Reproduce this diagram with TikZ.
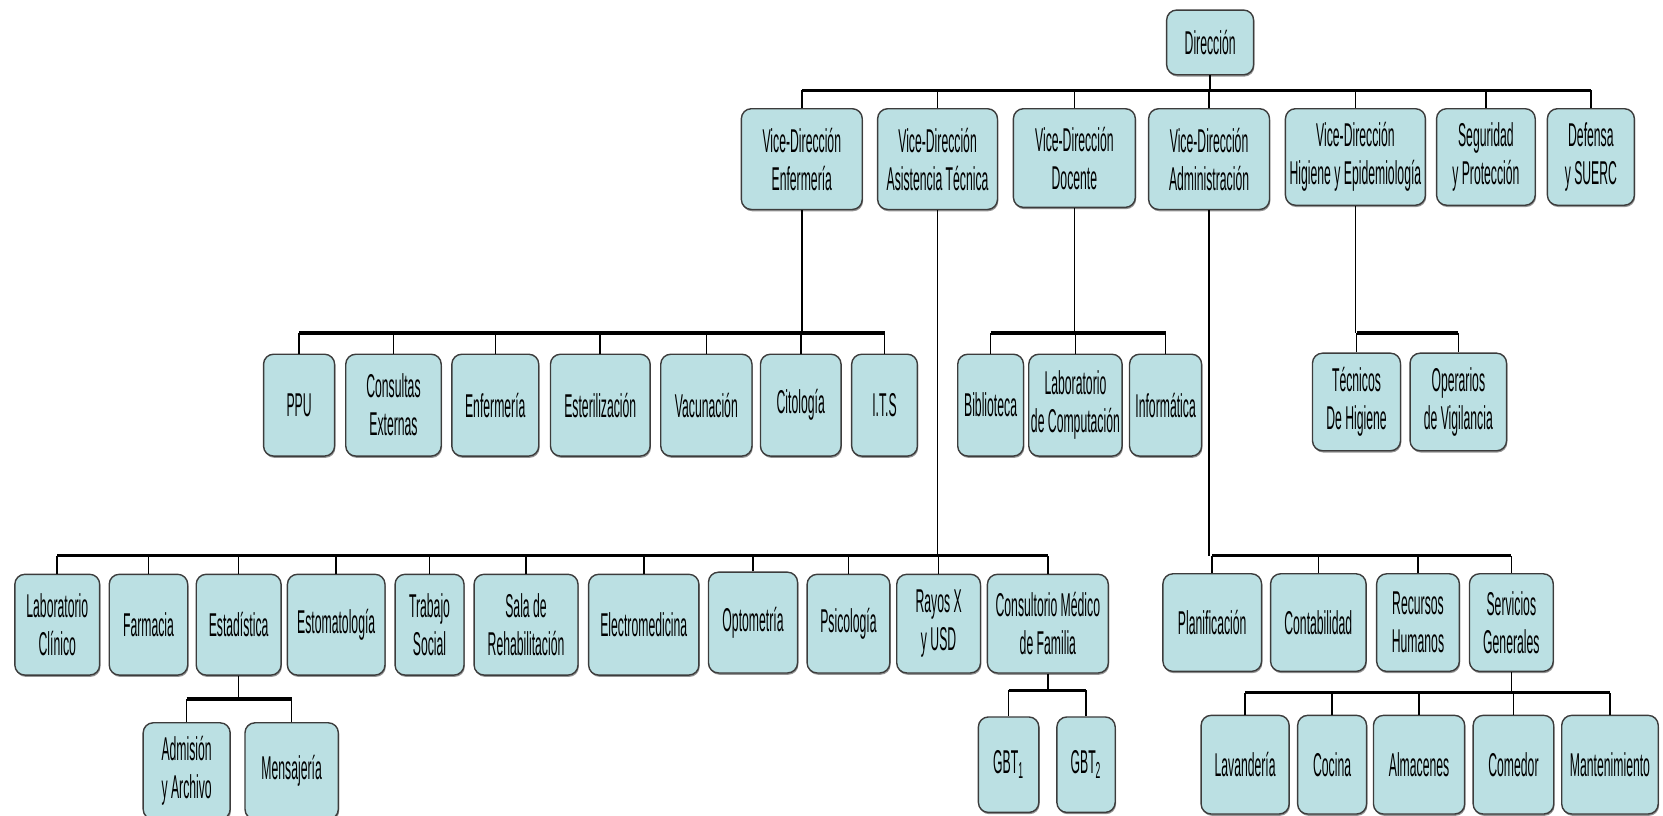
\documentclass[tikz,border=0pt]{standalone}
\usepackage{fontspec}
\newfontfamily\orgfont{Liberation Sans}[FakeStretch=0.37]
\usetikzlibrary{shadows}
\definecolor{boxfill}{RGB}{187,224,227}
\definecolor{boxline}{RGB}{60,60,60}
\tikzset{
  box/.style 2 args={draw=boxline, fill=boxfill, line width=0.7pt, rounded corners=5pt,
    inner sep=0pt, align=center, minimum width=#1*0.5303pt, minimum height=#2*0.5303pt,
    font=\orgfont\fontsize{16.5}{19}\selectfont,
    drop shadow={shadow xshift=0.4pt, shadow yshift=-0.9pt, fill=black!70, opacity=0.6}},
  bus/.style={line width=1.6pt},
  link/.style={line width=0.8pt}
}
\begin{document}
\begin{tikzpicture}[x=0.5303pt, y=-0.5303pt]
\useasboundingbox (0,0) rectangle (1568,769);
% bus levels
\coordinate (b0) at (0,85);
\coordinate (b1) at (0,314);
\coordinate (b2) at (0,524);
\coordinate (b3) at (0,659);
\coordinate (b4) at (0,651);
\coordinate (b5) at (0,653);
% top
\node[box={82}{61}] (dir) at (1141,40) {Dirección};
\node[box={114}{95}] (vde) at (756,150) {Vice-Dirección\\Enfermería};
\node[box={113}{95}] (vda) at (884,150) {Vice-Dirección\\Asistencia Técnica};
\node[box={115}{93}] (vdd) at (1013,149) {Vice-Dirección\\Docente};
\node[box={114}{95}] (vdm) at (1140,150) {Vice-Dirección\\Administración};
\node[box={132}{91}] (vdh) at (1278,148) {Vice-Dirección\\Higiene y Epidemiología};
\node[box={93}{91}] (seg) at (1401,148) {Seguridad\\y Protección};
\node[box={82}{91}] (def) at (1500,148) {Defensa\\y SUERC};
% enfermeria
\node[box={67}{96}] (ppu) at (282,382) {PPU};
\node[box={90}{96}] (cons) at (371,382) {Consultas\\Externas};
\node[box={82}{96}] (enf) at (467,382) {Enfermería};
\node[box={94}{96}] (est) at (566,382) {Esterilización};
\node[box={86}{96}] (vac) at (666,382) {Vacunación};
\node[box={76}{96}] (cit) at (755,382) {Citología};
\node[box={62}{96}] (its) at (834,382) {I.T.S};
% docente
\node[box={62}{96}] (bib) at (934,382) {Biblioteca};
\node[box={88}{96}] (lco) at (1014,382) {Laboratorio\\de Computación};
\node[box={68}{96}] (inf) at (1099,382) {Informática};
% higiene
\node[box={83}{92}] (tec) at (1279,379) {Técnicos\\De Higiene};
\node[box={91}{92}] (ope) at (1375,379) {Operarios\\de Vigilancia};
% asistencia tecnica
\node[box={80}{95}] (lab) at (54,589) {Laboratorio\\Clínico};
\node[box={74}{95}] (far) at (140,589) {Farmacia};
\node[box={80}{95}] (eta) at (225,589) {Estadística};
\node[box={92}{95}] (eto) at (317,589) {Estomatología};
\node[box={65}{95}] (tra) at (405,589) {Trabajo\\Social};
\node[box={98}{95}] (sal) at (496,589) {Sala de\\Rehabilitación};
\node[box={104}{95}] (ele) at (607,589) {Electromedicina};
\node[box={84}{95}] (opt) at (710,587) {Optometría};
\node[box={78}{93}] (psi) at (800,588) {Psicología};
\node[box={79}{93}] (ray) at (885,588) {Rayos X\\y USD};
\node[box={114}{93}] (cmf) at (988,588) {Consultorio Médico\\de Familia};
\node[box={82}{91}] (adm) at (176,727) {Admisión\\y Archivo};
\node[box={88}{91}] (men) at (275,727) {Mensajería};
\node[box={57}{90}] (gb1) at (951,721) {GBT\textsubscript{1}};
\node[box={55}{90}] (gb2) at (1024,721) {GBT\textsubscript{2}};
% administracion
\node[box={93}{92}] (pla) at (1143,587) {Planificación};
\node[box={90}{92}] (con) at (1243,587) {Contabilidad};
\node[box={78}{92}] (rrh) at (1337,587) {Recursos\\Humanos};
\node[box={79}{92}] (ser) at (1425,587) {Servicios\\Generales};
\node[box={83}{93}] (lav) at (1174,721) {Lavandería};
\node[box={65}{93}] (coc) at (1256,721) {Cocina};
\node[box={86}{93}] (alm) at (1338,721) {Almacenes};
\node[box={76}{93}] (com) at (1427,721) {Comedor};
\node[box={91}{93}] (man) at (1518,721) {Mantenimiento};
% connectors
\draw[bus] (vde.north |- b0) -- (def.north |- b0);
\draw[link] (dir.south) -- (dir.south |- b0);
\draw[link] (vde.north) -- (vde.north |- b0) (vda.north) -- (vda.north |- b0)
  (vdd.north) -- (vdd.north |- b0) (vdm.north) -- (vdm.north |- b0)
  (vdh.north) -- (vdh.north |- b0) (seg.north) -- (seg.north |- b0)
  (def.north) -- (def.north |- b0);
\draw[bus] (ppu.north |- b1) -- (its.north |- b1);
\draw[link] (vde.south) -- (vde.south |- b1)
  (ppu.north) -- (ppu.north |- b1) (cons.north) -- (cons.north |- b1)
  (enf.north) -- (enf.north |- b1) (est.north) -- (est.north |- b1)
  (vac.north) -- (vac.north |- b1) (cit.north) -- (cit.north |- b1)
  (its.north) -- (its.north |- b1);
\draw[bus] (bib.north |- b1) -- (inf.north |- b1);
\draw[link] (vdd.south) -- (vdd.south |- b1)
  (bib.north) -- (bib.north |- b1) (lco.north) -- (lco.north |- b1)
  (inf.north) -- (inf.north |- b1);
\draw[bus] (tec.north |- b1) -- (ope.north |- b1);
\draw[link] (vdh.south) -- (vdh.south |- b1)
  (tec.north) -- (tec.north |- b1) (ope.north) -- (ope.north |- b1);
\draw[bus] (lab.north |- b2) -- (cmf.north |- b2);
\draw[link] (vda.south) -- (vda.south |- b2)
  (lab.north) -- (lab.north |- b2) (far.north) -- (far.north |- b2)
  (eta.north) -- (eta.north |- b2) (eto.north) -- (eto.north |- b2)
  (tra.north) -- (tra.north |- b2) (sal.north) -- (sal.north |- b2)
  (ele.north) -- (ele.north |- b2) (opt.north) -- (opt.north |- b2)
  (psi.north) -- (psi.north |- b2) (ray.north) -- (ray.north |- b2)
  (cmf.north) -- (cmf.north |- b2);
\draw[bus] (adm.north |- b3) -- (men.north |- b3);
\draw[link] (eta.south) -- (eta.south |- b3)
  (adm.north) -- (adm.north |- b3) (men.north) -- (men.north |- b3);
\draw[bus] (gb1.north |- b4) -- (gb2.north |- b4);
\draw[link] (cmf.south) -- (cmf.south |- b4)
  (gb1.north) -- (gb1.north |- b4) (gb2.north) -- (gb2.north |- b4);
\draw[bus] (pla.north |- b2) -- (ser.north |- b2);
\draw[link] (vdm.south) -- (vdm.south |- b2)
  (pla.north) -- (pla.north |- b2) (con.north) -- (con.north |- b2)
  (rrh.north) -- (rrh.north |- b2) (ser.north) -- (ser.north |- b2);
\draw[bus] (lav.north |- b5) -- (man.north |- b5);
\draw[link] (ser.south) -- (ser.south |- b5)
  (lav.north) -- (lav.north |- b5) (coc.north) -- (coc.north |- b5)
  (alm.north) -- (alm.north |- b5) (com.north) -- (com.north |- b5)
  (man.north) -- (man.north |- b5);
\end{tikzpicture}
\end{document}
